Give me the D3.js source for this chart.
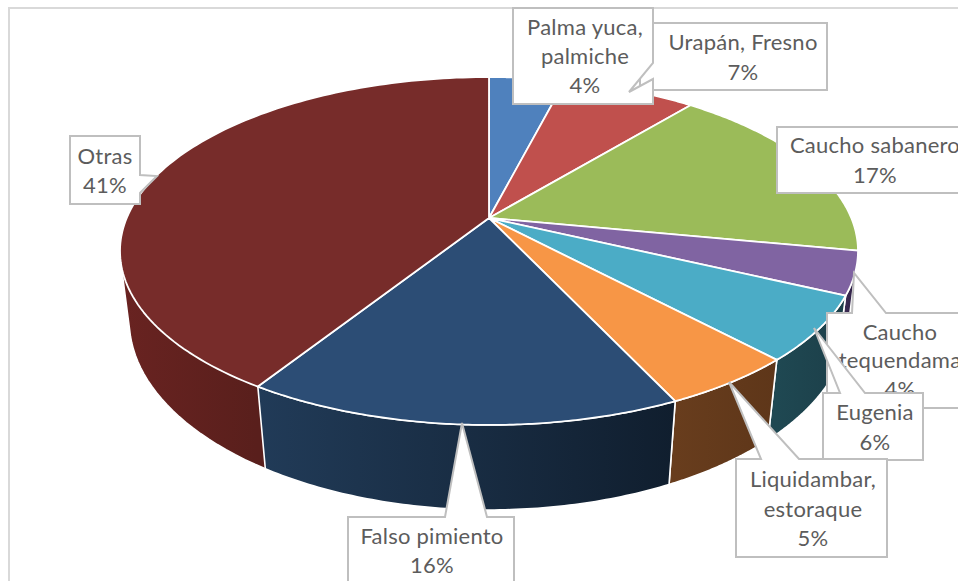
<!DOCTYPE html>
<html><head><meta charset="utf-8">
<script src="https://cdn.jsdelivr.net/npm/d3@7/dist/d3.min.js"></script>
<style>html,body{margin:0;padding:0;background:#fff;overflow:hidden}svg{display:block}</style>
</head><body><svg id="c" width="958" height="581"></svg>
<script>
const categories = ["Palma yuca, palmiche","Urapán, Fresno","Caucho sabanero","Caucho tequendama","Eugenia","Liquidambar, estoraque","Falso pimiento","Otras"];
const values = [4,7,17,4,6,5,16,41];
const topColors = ["#4f81bd","#c0504d","#9bbb59","#8064a2","#4bacc6","#f79646","#2c4d75","#772c2a"];
const wallFrom = ["#2f4d72","#742f2d","#5e7236","#3a2a52","#1f4852","#683d1d","#213b58","#692321"];
const wallTo   = ["#263f5e","#602725","#4e5f2d","#2c1e40","#1c3f49","#5e3619","#101e2e","#591f1c"];

// Perspective projection of the unit pie on to the top and bottom faces
const topFace = {cx:489, cy:218, a:362.3, b:167.7, k:-0.1897};
const botFace = {cx:489, cy:285.8, a:354, b:183.8, k:-0.18};
const project = (f,t,r=1) => {
  const u = r*Math.sin(t), v = -r*Math.cos(t), d = 1 + f.k*v;
  return [f.cx + f.a*u/d, f.cy + f.b*v/d];
};
const line = d3.line();
const pie = d3.pie().sort(null).value(d=>d);
const arcs = pie(values);
const svg = d3.select("#c");
const defs = svg.append("defs");

svg.append("rect").attr("x",9).attr("y",8).attr("width",1000).attr("height",700)
  .attr("fill","#fff").attr("stroke","#d9d9d9").attr("stroke-width",2);

const sample = (a0,a1,n) => d3.range(n+1).map(i=>a0+(a1-a0)*i/n);

// walls, back to front
const mid = a => (a.startAngle+a.endAngle)/2;
const walls = arcs.map((a,i)=>({a,i}))
  .sort((p,q)=>Math.abs(mid(q.a)-Math.PI)-Math.abs(mid(p.a)-Math.PI));
walls.forEach(({a,i})=>{
  const ts = sample(a.startAngle,a.endAngle,80);
  const up = ts.map(t=>project(topFace,t));
  const dn = ts.map(t=>project(botFace,t)).reverse();
  // gradient spans the forward-facing part of the wall only
  const front = ts.filter(t=>Math.cos(t)<0.05).map(t=>project(topFace,t)[0]);
  const xs = front.length ? front : up.map(p=>p[0]);
  const g = defs.append("linearGradient").attr("id","w"+i).attr("gradientUnits","userSpaceOnUse")
    .attr("x1",d3.min(xs)).attr("x2",d3.max(xs)).attr("y1",0).attr("y2",0);
  g.append("stop").attr("offset",0).attr("stop-color",wallFrom[i]);
  g.append("stop").attr("offset",1).attr("stop-color",wallTo[i]);
  // the largest slice holds the left silhouette, so it is drawn as its hull
  const outline = a.endAngle-a.startAngle>Math.PI/2 ? d3.polygonHull(up.concat(dn)) : up.concat(dn);
  svg.append("path").attr("d",line(outline)+"Z").attr("fill",`url(#w${i})`)
    .attr("stroke","#fff").attr("stroke-width",1.6).attr("stroke-linejoin","round");
});
// top face
arcs.forEach((a,i)=>{
  const pts = [project(topFace,0,0)].concat(sample(a.startAngle,a.endAngle,120).map(t=>project(topFace,t)));
  svg.append("path").attr("d",line(pts)+"Z").attr("fill",topColors[i])
    .attr("stroke","#fff").attr("stroke-width",1.8).attr("stroke-linejoin","round");
});

// callouts: drawing order, outline and text anchors
const callouts = [
 {lines:["Otras","41%"],x:105,y:[164,193],o:[[70,136],[140,136],[140,175],[157,176],[140,193],[140,204],[70,204]]},
 {lines:["Urapán, Fresno","7%"],x:743,y:[50,80],o:[[640,23],[827,23],[827,90],[640,90]]},
 {lines:["Palma yuca,","palmiche","4%"],x:585,y:[35,64,93],o:[[513,8],[653,8],[653,63],[629,92],[653,79],[653,104],[513,104]]},
 {lines:["Caucho sabanero","17%"],x:875,y:[153,183],o:[[777,127],[975,127],[975,193],[777,193]]},
 {lines:["Caucho","tequendama","4%"],x:900,y:[340,368,397],o:[[827,313],[852,313],[854,273],[886,313],[975,313],[975,408],[827,408]]},
 {lines:["Eugenia","6%"],x:875,y:[420,450],o:[[823,393],[840,393],[814,328],[865,393],[923,393],[923,460],[823,460]]},
 {lines:["Liquidambar,","estoraque","5%"],x:813,y:[487,517,546],o:[[736,459],[761,459],[729,382],[799,459],[887,459],[887,557],[736,557]]},
 {lines:["Falso pimiento","16%"],x:432,y:[544,573],o:[[348,517],[445,517],[462,423],[487,517],[514,517],[514,600],[348,600]]}
];
callouts.forEach(c=>{
  svg.append("path").attr("d",line(c.o)+"Z").attr("fill","#fff").attr("stroke","#bfbfbf").attr("stroke-width",2);
  c.lines.forEach((t,j)=>svg.append("text").attr("x",c.x).attr("y",c.y[j]).attr("text-anchor","middle")
    .attr("font-family","Lato, 'Open Sans', sans-serif").attr("font-size",22).attr("letter-spacing",0.25).attr("fill","#5c5c5c").text(t));
});
</script></body></html>
